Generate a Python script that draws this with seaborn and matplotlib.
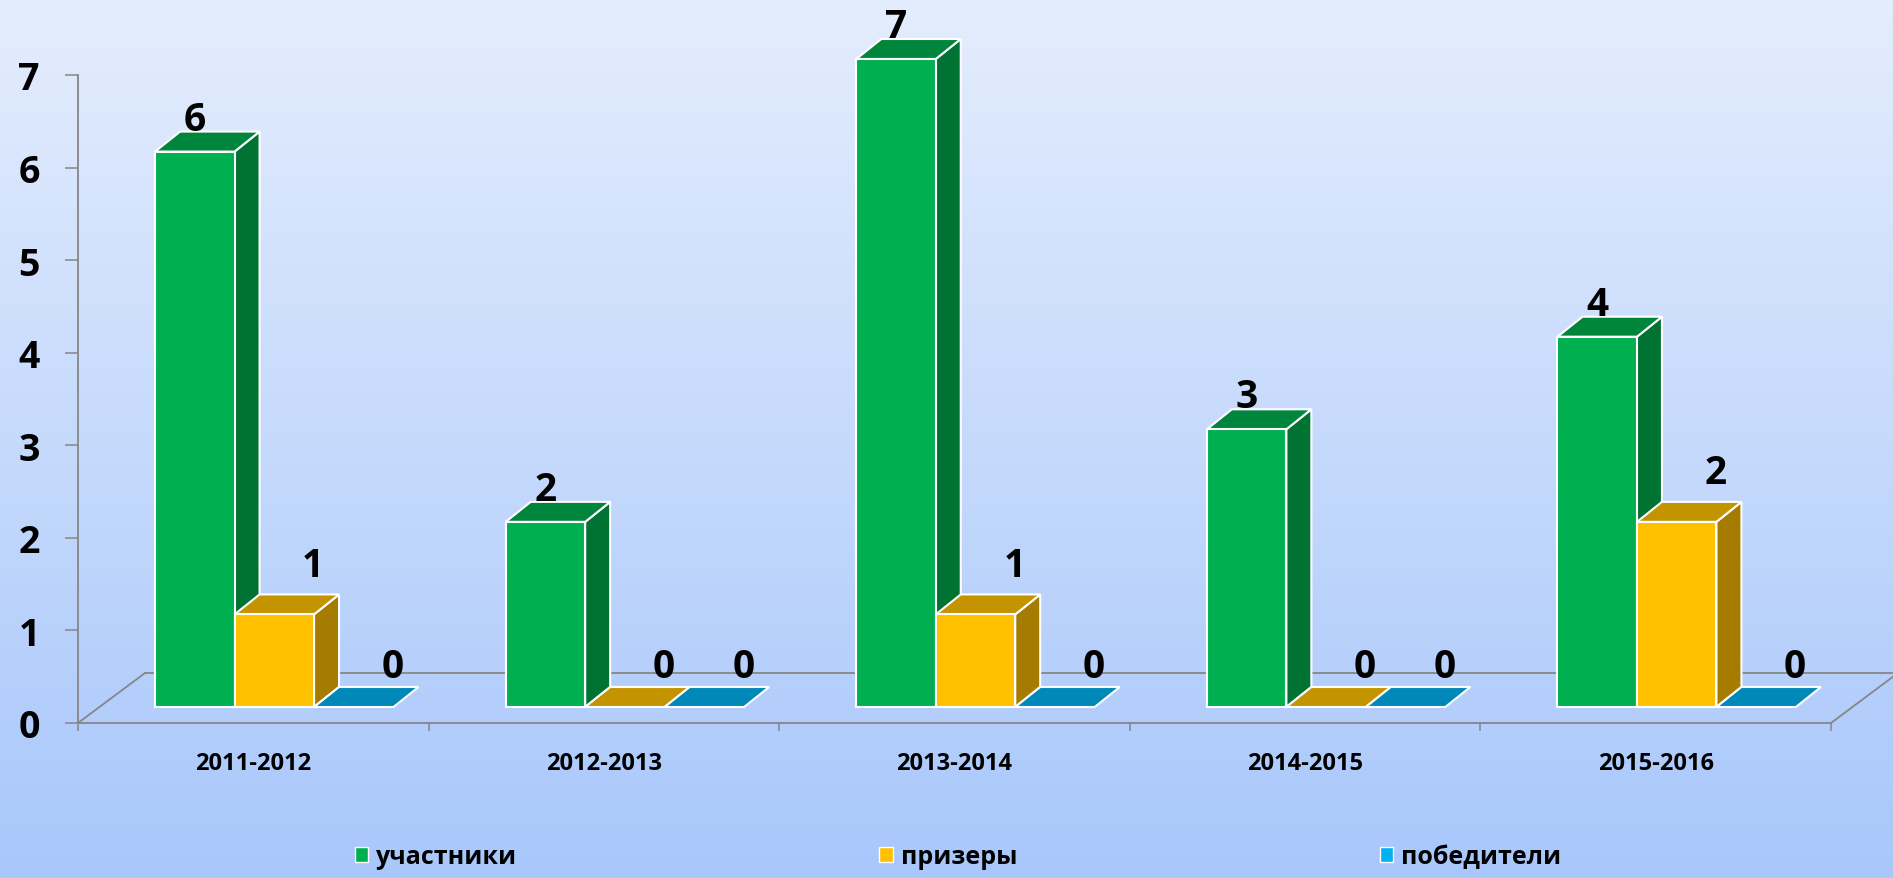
import numpy as np
import pandas as pd
import seaborn as sns
import matplotlib.pyplot as plt
from matplotlib.patches import Polygon, Patch
from matplotlib.colors import LinearSegmentedColormap

years = ["2011-2012", "2012-2013", "2013-2014", "2014-2015", "2015-2016"]
series = ["участники", "призеры", "победители"]
uchastniki = [6, 2, 7, 3, 4]
prizery = [1, 0, 1, 0, 2]
pobediteli = [0, 0, 0, 0, 0]

front_colors = ["#00B050", "#FFC000", "#00B0F0"]
top_colors = ["#00863C", "#C49400", "#0088B8"]
side_colors = ["#007232", "#A67C00", "#007AA6"]
axis_grey = "#868686"

sns.set_style("white")
plt.rcParams["font.family"] = ["Open Sans", "DejaVu Sans"]
plt.rcParams["font.weight"] = "bold"

df = pd.DataFrame({
    "year": years * 3,
    "series": np.repeat(series, len(years)),
    "value": uchastniki + prizery + pobediteli,
})

W, H = 1893, 879
fig = plt.figure(figsize=(W / 100, H / 100), dpi=100)

# background gradient
bg = fig.add_axes([0, 0, 1, 1], zorder=-10)
grad = np.linspace(0, 1, 256).reshape(-1, 1)
cmap = LinearSegmentedColormap.from_list("bg", ["#E4EDFD", "#A8C7FB"])
bg.imshow(grad, aspect="auto", cmap=cmap, extent=[0, 1, 0, 1])
bg.axis("off")

# plot area: front floor edge from x=78 to 1831 px, y=0 at 724 px, y=7 at 76 px
ax = fig.add_axes([78 / W, 1 - 724 / H, (1831 - 78) / W, (724 - 76) / H])
ax.patch.set_alpha(0)
sns.barplot(data=df, x="year", y="value", hue="series", palette=front_colors,
            saturation=1, width=0.68, errorbar=None, edgecolor="white",
            linewidth=1.5, legend=False, ax=ax)
ax.set_xlim(-0.5, 4.5)
ax.set_ylim(0, 7)

# pixel -> data unit conversion for the fake 3d depth
sx = (1831 - 78) / 5
sy = (724 - 76) / 7
lift_x, lift_y = 21 / sx, 16 / sy     # bars stand in the middle of the floor
ddx, ddy = 25 / sx, 20 / sy           # depth of each bar
fdx, fdy = 67 / sx, 50 / sy           # depth of the floor

label_offsets = [(0, -5), (28, 7), (28, 1)]

for i, cont in enumerate(ax.containers):
    for p in cont.patches:
        x0 = p.get_x() + lift_x
        w = p.get_width()
        h = p.get_height()
        y0 = lift_y
        z = 3 + x0
        p.set_x(x0)
        p.set_y(y0)
        p.set_zorder(z + 0.002)
        p.set_clip_on(False)
        if h == 0:
            p.set_visible(False)
        else:
            side = Polygon([(x0 + w, y0), (x0 + w + ddx, y0 + ddy),
                            (x0 + w + ddx, y0 + h + ddy), (x0 + w, y0 + h)],
                           closed=True, facecolor=side_colors[i], edgecolor="white",
                           linewidth=1.5, zorder=z, clip_on=False)
            ax.add_patch(side)
        top = Polygon([(x0, y0 + h), (x0 + w, y0 + h),
                       (x0 + w + ddx, y0 + h + ddy), (x0 + ddx, y0 + h + ddy)],
                      closed=True, facecolor=top_colors[i], edgecolor="white",
                      linewidth=1.5, zorder=z + 0.001, clip_on=False)
        ax.add_patch(top)
        ox, oy = label_offsets[i]
        if h == 0:
            oy = 1
        ax.annotate(f"{h:.0f}", (x0 + w / 2, y0 + h + ddy),
                    xytext=(ox, oy), textcoords="offset points",
                    ha="center", va="bottom", fontsize=28, fontweight="bold",
                    color="black", zorder=20, annotation_clip=False)

# floor outline
floor_kw = dict(color=axis_grey, linewidth=1.3, zorder=1, clip_on=False)
ax.plot([-0.5, -0.5 + fdx], [0, fdy], **floor_kw)
ax.plot([-0.5 + fdx, 4.5 + fdx], [fdy, fdy], **floor_kw)
ax.plot([4.5, 4.5 + fdx], [0, fdy], **floor_kw)

sns.despine(ax=ax)
for s in ("left", "bottom"):
    ax.spines[s].set_color(axis_grey)
    ax.spines[s].set_linewidth(1.3)

ax.set_yticks(range(8))
ax.tick_params(axis="y", length=9.4, width=1.1, color=axis_grey, pad=18,
               labelsize=27, labelcolor="black", direction="out", left=True)
ax.set_xticks(range(len(years)))
ax.set_xticklabels(years)
ax.tick_params(axis="x", which="major", length=0, pad=20, labelsize=17,
               labelcolor="black")
ax.set_xticks(np.arange(-0.5, 5, 1), minor=True)
ax.tick_params(axis="x", which="minor", length=6, width=1.1, color=axis_grey,
               direction="out", bottom=True)
for lab in ax.get_xticklabels() + ax.get_yticklabels():
    lab.set_fontweight("bold")
ax.set_xlabel("")
ax.set_ylabel("")

handles = [Patch(facecolor=c, edgecolor="white", linewidth=1) for c in front_colors]
fig.legend(handles, series, loc="center", bbox_to_anchor=(0.506, 0.024), ncol=3,
           frameon=False, prop={"size": 18, "weight": "bold"}, handlelength=0.55,
           handleheight=0.55, handletextpad=0.3, columnspacing=14.5,
           labelcolor="black")

fig.savefig("out.png", dpi=100)
